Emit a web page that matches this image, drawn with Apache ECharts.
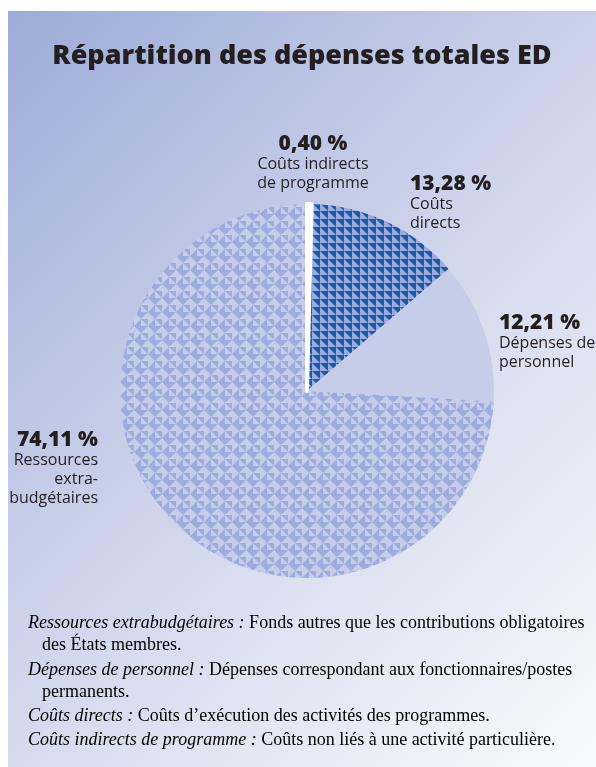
<!DOCTYPE html>
<html>
<head>
<meta charset="utf-8">
<script src="https://cdn.jsdelivr.net/npm/echarts@6/dist/echarts.min.js"></script>
<style>
  html, body { margin: 0; padding: 0; background: #fff; }
  #chart { position: absolute; left: 8px; top: 11px; width: 588px; height: 756px;
    background: linear-gradient(135deg, #9cabd8 0%, #bcc5e4 30%, #d9deef 60%, #f9fafd 100%); }
</style>
</head>
<body>
<div id="chart"></div>
<script>
// valeurs du graphique (sens horaire ; la tranche blanche finit à midi)
var names = ['Coûts directs', 'Dépenses de personnel', 'Ressources extrabudgétaires', 'Coûts indirects de programme'];
var values = [13.28, 12.21, 74.11, 0.40];
var labelLines = [['Coûts', 'directs'], ['Dépenses de', 'personnel'], ['Ressources', 'extra-', 'budgétaires'], ['Coûts indirects', 'de programme']];
var notes = [
  ['Ressources extrabudgétaires :', ' Fonds autres que les contributions obligatoires', 'des États membres.'],
  ['Dépenses de personnel :', ' Dépenses correspondant aux fonctionnaires/postes', 'permanents.'],
  ['Coûts directs :', ' Coûts d\u2019exécution des activités des programmes.'],
  ['Coûts indirects de programme :', ' Coûts non liés à une activité particulière.']
];

function makeTile(size, bg, fg, draw) {
  var c = document.createElement('canvas');
  c.width = size; c.height = size;
  var g = c.getContext('2d');
  g.fillStyle = bg; g.fillRect(0, 0, size, size);
  g.fillStyle = fg;
  draw(g, size);
  return c;
}
function tri(g, pts) {
  g.beginPath(); g.moveTo(pts[0], pts[1]); g.lineTo(pts[2], pts[3]); g.lineTo(pts[4], pts[5]); g.closePath(); g.fill();
}
var darkTile = makeTile(8, '#1b5aa8', '#9babdb', function (g, s) { tri(g, [0, 0, 0, s, s, s]); });
var lightTile = makeTile(14, '#9dacdc', '#c6cdea', function (g, s) {
  var h = s / 2;
  tri(g, [0, 0, h, 0, 0, h]);
  tri(g, [h, 0, h, h, s, h]);
  tri(g, [0, h, 0, s, h, s]);
  tri(g, [s, h, s, s, h, s]);
});

var colors = [{ image: darkTile, repeat: 'repeat' }, '#c6cde9', { image: lightTile, repeat: 'repeat' }, '#ffffff'];
var labelPos = [
  { x: 402, y: 162, align: 'left' },
  { x: 491, y: 301, align: 'left' },
  { x: 90, y: 418, align: 'right' },
  { x: 305, y: 122, align: 'center' }
];
var total = values.reduce(function (a, b) { return a + b; }, 0);
var startAngle = 90 - values[3] / total * 360;

var chart = echarts.init(document.getElementById('chart'));
chart.setOption({
  animation: false,
  title: {
    text: 'Répartition des dépenses totales ED',
    left: 'center', top: 27,
    textStyle: { fontFamily: 'Open Sans', fontWeight: 800, fontSize: 27, color: '#231f20' }
  },
  series: [{
    type: 'pie',
    center: [299, 380],
    radius: 187,
    startAngle: startAngle,
    clockwise: true,
    silent: true,
    data: values.map(function (v, i) {
      var it = { name: names[i], value: v, itemStyle: { color: colors[i] } };
      if (i === 3) it.itemStyle = { color: '#ffffff', borderColor: '#ffffff', borderWidth: 4 };
      return it;
    }),
    label: {
      show: true,
      position: 'outside',
      overflow: 'none',
      alignTo: 'none',
      formatter: function (p) {
        return '{v|' + values[p.dataIndex].toFixed(2).replace('.', ',') + ' %}\n{t|' + labelLines[p.dataIndex].join('\n') + '}';
      },
      rich: {
        v: { fontFamily: 'Open Sans', fontWeight: 800, fontSize: 21, color: '#231f20', lineHeight: 22 },
        t: { fontFamily: 'Open Sans', fontSize: 16, color: '#231f20', lineHeight: 19 }
      }
    },
    labelLine: { show: false },
    labelLayout: function (p) {
      var q = labelPos[p.dataIndex];
      return { x: q.x, y: q.y, align: q.align, verticalAlign: 'top' };
    }
  }],
  graphic: notes.map(function (n, i) {
    var tops = [603, 650, 696, 720];
    var txt = '{i|' + n[0] + '}{r|' + n[1] + '}';
    if (n[2]) txt += '\n{ind|}{r|' + n[2] + '}';
    return {
      type: 'text', left: 20, top: tops[i],
      style: {
        text: txt,
        rich: {
          i: { fontFamily: 'Liberation Serif', fontStyle: 'italic', fontSize: 18, color: '#231f20', lineHeight: 22 },
          r: { fontFamily: 'Liberation Serif', fontSize: 18, color: '#231f20', lineHeight: 22 },
          ind: { width: 14, lineHeight: 22 }
        }
      }
    };
  })
});
</script>
</body>
</html>
